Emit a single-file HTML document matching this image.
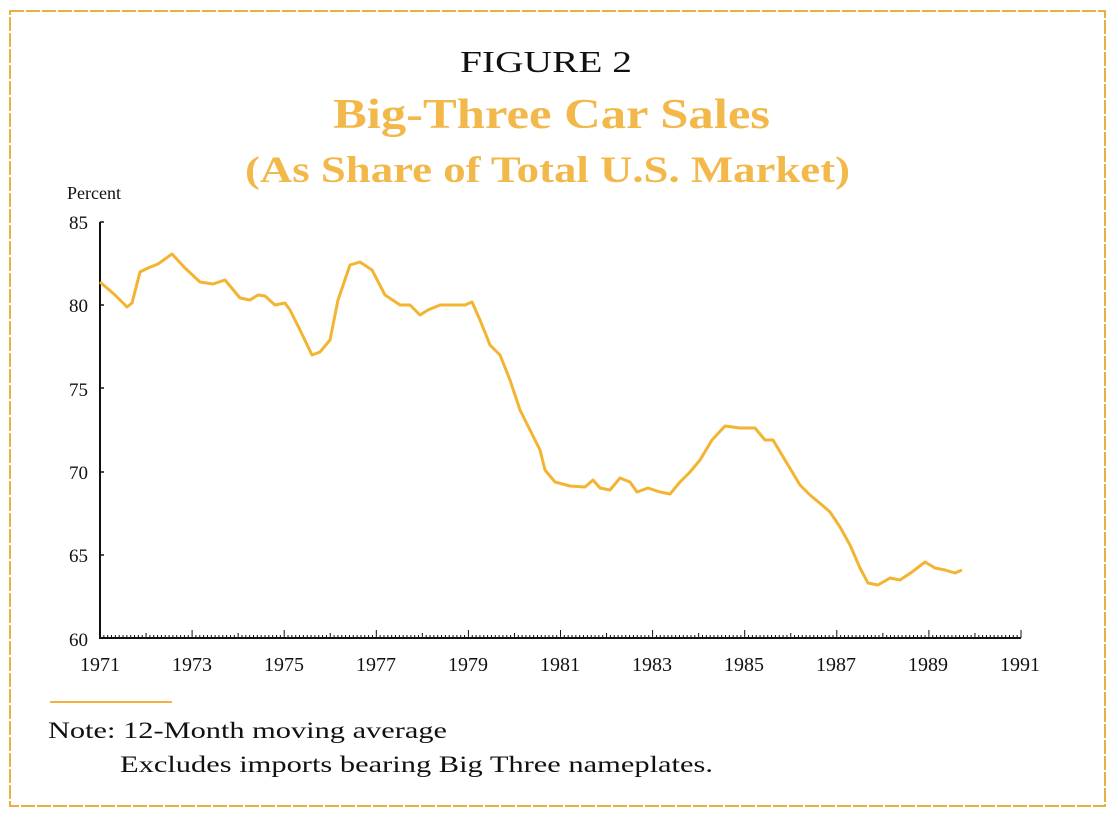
<!DOCTYPE html>
<html><head><meta charset="utf-8"><style>
body{margin:0;background:#fff;width:1118px;height:824px;overflow:hidden;font-family:"Liberation Serif",serif;}
</style></head><body>
<svg width="1118" height="824" xmlns="http://www.w3.org/2000/svg" font-family="Liberation Serif, serif">
<rect x="10" y="11" width="1095" height="795" fill="none" stroke="#e8b040" stroke-width="2" stroke-dasharray="14 2"/>
<text x="460" y="72" font-size="31" fill="#111" textLength="172" lengthAdjust="spacingAndGlyphs">FIGURE 2</text>
<text x="333" y="128" font-size="42" font-weight="bold" fill="#f2b84a" textLength="437" lengthAdjust="spacingAndGlyphs">Big-Three Car Sales</text>
<text x="245" y="182" font-size="37" font-weight="bold" fill="#f2b84a" textLength="605" lengthAdjust="spacingAndGlyphs">(As Share of Total U.S. Market)</text>
<text x="67" y="199" font-size="18" fill="#111">Percent</text>
<g font-size="19" fill="#111" text-anchor="end">
<text x="88" y="229">85</text><text x="88" y="312">80</text><text x="88" y="396">75</text>
<text x="88" y="479">70</text><text x="88" y="562">65</text><text x="88" y="646">60</text>
</g>
<line x1="100" y1="222" x2="100" y2="638" stroke="#111" stroke-width="2"/>
<line x1="99" y1="638" x2="1021" y2="638" stroke="#111" stroke-width="2"/>
<g stroke="#111" stroke-width="1.5">
<line x1="100" y1="222" x2="104" y2="222"/><line x1="100" y1="305" x2="104" y2="305"/><line x1="100" y1="388" x2="104" y2="388"/><line x1="100" y1="472" x2="104" y2="472"/><line x1="100" y1="555" x2="104" y2="555"/>
</g>
<g id="ticks" stroke="#111" stroke-width="1"></g>
<g font-size="20" fill="#111" text-anchor="middle">
<text x="100" y="671">1971</text><text x="192" y="671">1973</text><text x="284" y="671">1975</text><text x="376" y="671">1977</text><text x="468" y="671">1979</text><text x="560" y="671">1981</text><text x="652" y="671">1983</text><text x="744" y="671">1985</text><text x="836" y="671">1987</text><text x="928" y="671">1989</text><text x="1020" y="671">1991</text>
</g>
<polyline fill="none" stroke="#f2b431" stroke-width="3" stroke-linejoin="round" points="100,282 115,295 127,307 132,303 140,272 148,268 158,264 172,254 185,268 200,282 213,284 225,280 240,298 250,300 258,295 265,296 275,305 285,303 290,310 300,330 312,355 320,352 330,340 338,300 350,265 360,262 372,270 385,295 400,305 410,305 420,315 428,310 440,305 455,305 465,305 472,302 480,320 490,345 500,355 510,380 520,410 530,430 540,450 545,470 555,482 570,486 585,487 593,480 600,488 610,490 620,478 630,482 637,492 648,488 660,492 670,494 680,482 690,472 700,460 712,440 725,426 740,428 755,428 765,440 773,440 785,460 800,485 810,495 822,505 830,512 840,527 850,545 860,568 868,583 878,585 890,578 900,580 912,572 925,562 935,568 945,570 955,573 962,570"/>
<line x1="50" y1="702" x2="172" y2="702" stroke="#f0b43c" stroke-width="2"/>
<text x="48" y="738" font-size="23" fill="#111" textLength="399" lengthAdjust="spacingAndGlyphs">Note: 12-Month moving average</text>
<text x="120" y="772" font-size="23" fill="#111" textLength="593" lengthAdjust="spacingAndGlyphs">Excludes imports bearing Big Three nameplates.</text>
</svg>
<script>
var g=document.getElementById('ticks'),s='';
for(var i=0;i<=240;i++){var x=100+i*921/240;var h=(i%24==0)?8:(i%12==0?5:3);s+='<line x1="'+x+'" y1="638" x2="'+x+'" y2="'+(638-h)+'"/>';}
g.innerHTML=s;
</script>
</body></html>
